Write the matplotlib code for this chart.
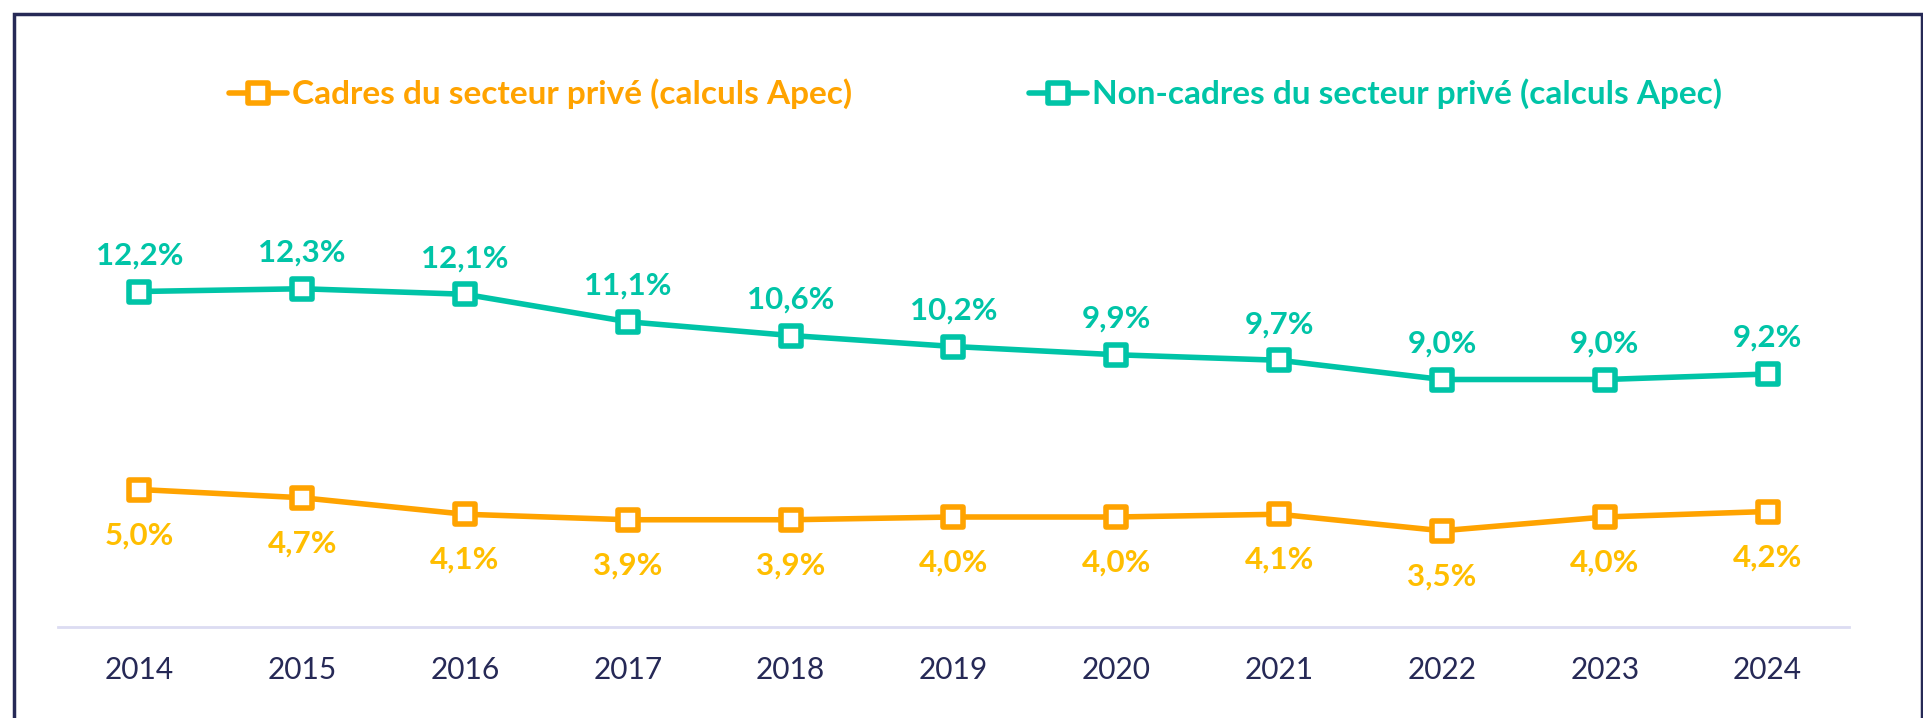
import matplotlib.pyplot as plt
from matplotlib.markers import MarkerStyle
from matplotlib.patches import Rectangle

# === DATA ===
years = [2014, 2015, 2016, 2017, 2018, 2019, 2020, 2021, 2022, 2023, 2024]
cadres = [5.0, 4.7, 4.1, 3.9, 3.9, 4.0, 4.0, 4.1, 3.5, 4.0, 4.2]
non_cadres = [12.2, 12.3, 12.1, 11.1, 10.6, 10.2, 9.9, 9.7, 9.0, 9.0, 9.2]
label_cadres = "Cadres du secteur privé (calculs Apec)"
label_non_cadres = "Non-cadres du secteur privé (calculs Apec)"

# === STYLE ===
ORANGE = '#FFA300'
ORANGE_TXT = '#FFBE00'
TEAL = '#00C4A7'
NAVY = '#262956'
AXIS = '#DCDCF2'

plt.rcParams['font.family'] = ['Lato', 'DejaVu Sans']

fig = plt.figure(figsize=(19.24, 7.18), dpi=100)
ax = fig.add_axes([58 / 1924, 91 / 718, 1791 / 1924, 627 / 718])

x = list(range(len(years)))
marker = MarkerStyle('s', joinstyle='round')
common = dict(lw=4, marker=marker, markersize=15, markerfacecolor='white',
              markeredgewidth=4, solid_joinstyle='round', solid_capstyle='round')

ax.plot(x, cadres, color=ORANGE, markeredgecolor=ORANGE, label=label_cadres, **common)
ax.plot(x, non_cadres, color=TEAL, markeredgecolor=TEAL, label=label_non_cadres, **common)

# data labels
for i, v in enumerate(cadres):
    ax.annotate(f"{v:.1f}%".replace('.', ','), (i, v), xytext=(0, -33),
                textcoords='offset points', ha='center', va='center',
                fontsize=22.5, fontweight='bold', color=ORANGE_TXT)
for i, v in enumerate(non_cadres):
    ax.annotate(f"{v:.1f}%".replace('.', ','), (i, v), xytext=(0, 26),
                textcoords='offset points', ha='center', va='center',
                fontsize=22.5, fontweight='bold', color=TEAL)

ax.set_xlim(-0.5, len(years) - 0.5)
ax.set_ylim(0, 22.8)
ax.set_xticks(x)
ax.set_xticklabels([str(y) for y in years], fontsize=21.5, color=NAVY)
ax.tick_params(axis='x', length=0, pad=21)
ax.set_yticks([])
for side in ['top', 'right', 'left']:
    ax.spines[side].set_visible(False)
ax.spines['bottom'].set_color(AXIS)
ax.spines['bottom'].set_linewidth(2)
ax.patch.set_alpha(0)

leg = fig.legend(loc='center', bbox_to_anchor=(0.507, 0.869), ncol=2, frameon=False,
                 fontsize=24, handlelength=1.75, handletextpad=0.15, columnspacing=5.3)
for text, col in zip(leg.get_texts(), [ORANGE, TEAL]):
    text.set_color(col)
    text.set_fontweight('bold')

# frame around the chart
fig.patches.append(Rectangle((14 / 1924, -0.1), 1908 / 1924, 1.1 - 14 / 718,
                             transform=fig.transFigure, fill=False,
                             edgecolor=NAVY, lw=2.5, zorder=10))

fig.savefig('out.png', dpi=100)
